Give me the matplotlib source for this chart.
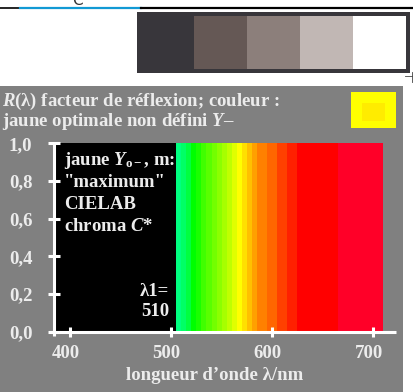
import matplotlib
matplotlib.use("Agg")
import matplotlib.pyplot as plt
from matplotlib.patches import Rectangle
from matplotlib.transforms import blended_transform_factory

# optimal colour: reflectance 1 between edges, 0 elsewhere
edges = [505, 510, 515, 520, 525, 530, 535, 540, 545, 550, 555, 560, 565,
         570, 575, 580, 585, 595, 605, 615, 625, 665, 710]
reflect = [1.0] * (len(edges) - 1)
bar_colors = ["#00ff80", "#00ff66", "#00ff40", "#00ff00", "#1aff00", "#40ff00",
              "#59ff00", "#73ff00", "#8cff00", "#a6ff00", "#c0ff00", "#e0ff00",
              "#ffff00", "#ffe000", "#ffc000", "#ffa000", "#ff8000", "#ff6600",
              "#ff4000", "#ff2000", "#ff0000", "#ff0028"]
xticks = [400, 500, 600, 700]
yticks = [0.0, 0.2, 0.4, 0.6, 0.8, 1.0]
ytick_labels = ["0,0", "0,2", "0,4", "0,6", "0,8", "1,0"]
swatch_colors = ["#655855", "#8c7f7b", "#c1b7b4", "#ffffff"]

W, H = 413, 392
TXT = "#ececec"
FS = 13.5
plt.rcParams["font.family"] = ["Liberation Serif", "DejaVu Serif"]
plt.rcParams["font.weight"] = "bold"
plt.rcParams["mathtext.fontset"] = "custom"
plt.rcParams["mathtext.rm"] = "Liberation Serif:bold"
plt.rcParams["mathtext.it"] = "Liberation Serif:bold:italic"
plt.rcParams["mathtext.bf"] = "Liberation Serif:bold"

fig = plt.figure(figsize=(W / 100, H / 100), dpi=100)
fig.patch.set_facecolor("white")

# pixel overlay for the page decoration
ov = fig.add_axes([0, 0, 1, 1])
ov.set_xlim(0, W)
ov.set_ylim(H, 0)
ov.axis("off")
ov.add_patch(Rectangle((0, 86), 403, H - 86, color="#808080", lw=0))
ov.plot([0, 20], [7.5, 7.5], color="black", lw=1.2)
ov.plot([20, 141], [7.8, 7.8], color="#1199d4", lw=1.6)
ov.plot([141, 413], [7.8, 7.8], color="black", lw=1.6)
ov.text(77, 4.5, "C", family="DejaVu Sans", weight="normal", fontsize=11,
        color="#333333", ha="center", va="baseline")
ov.add_patch(Rectangle((137, 12), 273, 61, color="#38363b", lw=0))
for i, c in enumerate(swatch_colors):
    ov.add_patch(Rectangle((194 + 53 * i, 16), 53, 53, color=c, lw=0))
ov.plot([405, 413], [76, 76], color="#444444", lw=0.6)
ov.plot([412, 412], [72, 82], color="#444444", lw=0.6)
ov.add_patch(Rectangle((351, 92), 45, 36, color="#ffff00", lw=0))
ov.add_patch(Rectangle((362, 103), 23, 18, color="#ffec00", lw=0))
ov.text(2, 101, r"$R$(λ) facteur de réflexion; couleur :", fontsize=FS,
        color=TXT, va="center", ha="left")
ov.text(2, 121, r"jaune optimale non défini $Y$–", fontsize=FS,
        color=TXT, va="center", ha="left")

# main plot, pixel mapping: 400 nm -> 70 px, 1.011 px/nm; y 0 -> 331.7, 1 -> 143.3
x0, x1 = 384.5, 722.0
px_l = 70 + (x0 - 400) * 1.011
px_r = 70 + (x1 - 400) * 1.011
ax = fig.add_axes([px_l / W, (H - 331.7) / H, (px_r - px_l) / W, 188.4 / H])
ax.set_facecolor("none")
ax.set_xlim(x0, x1)
ax.set_ylim(0, 1.0)
for s in ax.spines.values():
    s.set_visible(False)

ax.axvspan(x0, edges[0], ymin=0, ymax=1, color="black", lw=0)
lefts = edges[:-1]
widths = [b - a for a, b in zip(edges[:-1], edges[1:])]
ax.bar(lefts, reflect, width=widths, align="edge", color=bar_colors, lw=0)

ax.plot([380, x1], [0, 0], color="white", lw=2.2, clip_on=False, solid_capstyle="butt")
ax.plot([x0, x0], [-0.023, 1.005], color="white", lw=2.2, clip_on=False, solid_capstyle="butt")

ax.set_xticks(xticks)
ax.set_xticklabels([])
ax.set_yticks(yticks)
ax.set_yticklabels(ytick_labels)
ax.tick_params(axis="x", direction="inout", length=6.5, width=2.2, color="white")
ax.tick_params(axis="y", direction="inout", length=8.6, width=2.2, color="white",
               labelcolor=TXT, labelsize=FS, pad=11.5)
for lab in ax.get_yticklabels():
    lab.set_fontweight("bold")

# x tick labels sit a few pixels left of their ticks in the reference
xlab_tr = blended_transform_factory(ax.transData, ov.transData)
for v in xticks:
    ax.text(v - 4.5, 353, str(v), transform=xlab_tr, fontsize=FS, color=TXT,
            ha="center", va="center", clip_on=False)

ax.text(215, 375, "longueur d’onde λ/nm", transform=ov.transData, fontsize=FS,
        color=TXT, ha="center", va="center")

lines = [r"jaune $Y_{\mathrm{o}-}$, m:", "\"maximum\"", "CIELAB", r"chroma $C$*"]
for i, s in enumerate(lines):
    ax.text(64, 160 + 22 * i, s, transform=ov.transData, fontsize=FS,
            color=TXT, ha="left", va="center")
ax.text(169, 292, "λ1=", transform=ov.transData, fontsize=FS,
        color=TXT, ha="right", va="center")
ax.text(169, 312, "510", transform=ov.transData, fontsize=FS,
        color=TXT, ha="right", va="center")

fig.savefig("out.png", dpi=100, facecolor=fig.get_facecolor())
